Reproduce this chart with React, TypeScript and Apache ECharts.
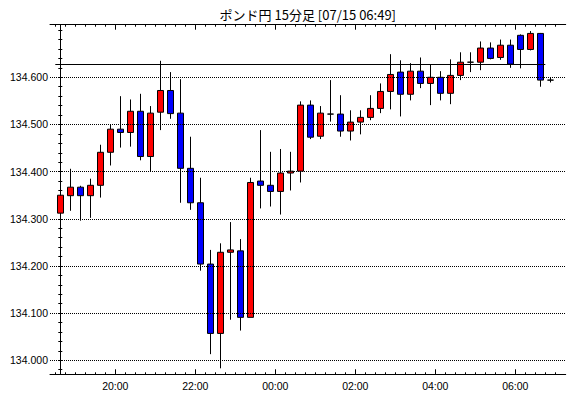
import React, { useEffect, useRef } from "react";
import * as echarts from "echarts";

const chartTitle = "ポンド円 15分足 [07/15 06:49]";

const times = [
  "18:30", "18:45", "19:00", "19:15", "19:30", "19:45", "20:00", "20:15", "20:30", "20:45",
  "21:00", "21:15", "21:30", "21:45", "22:00", "22:15", "22:30", "22:45", "23:00", "23:15",
  "23:30", "23:45", "00:00", "00:15", "00:30", "00:45", "01:00", "01:15", "01:30", "01:45",
  "02:00", "02:15", "02:30", "02:45", "03:00", "03:15", "03:30", "03:45", "04:00", "04:15",
  "04:30", "04:45", "05:00", "05:15", "05:30", "05:45", "06:00", "06:15", "06:30", "06:45",
];

const opens = [
  134.312, 134.349, 134.367, 134.349, 134.371, 134.441, 134.490, 134.483, 134.528, 134.432,
  134.526, 134.572, 134.524, 134.407, 134.334, 134.204, 134.057, 134.229, 134.232, 134.091,
  134.380, 134.371, 134.358, 134.397, 134.401, 134.541, 134.475, 134.522, 134.522, 134.486,
  134.505, 134.515, 134.534, 134.570, 134.611, 134.564, 134.613, 134.587, 134.600, 134.566,
  134.604, 134.632, 134.632, 134.662, 134.642, 134.668, 134.689, 134.659, 134.693, 134.594,
];
const closes = [
  134.350, 134.367, 134.349, 134.371, 134.441, 134.490, 134.483, 134.528, 134.432, 134.524,
  134.572, 134.523, 134.407, 134.334, 134.204, 134.057, 134.229, 134.234, 134.091, 134.377,
  134.371, 134.358, 134.397, 134.401, 134.541, 134.473, 134.524, 134.522, 134.486, 134.505,
  134.515, 134.534, 134.570, 134.606, 134.564, 134.613, 134.587, 134.600, 134.566, 134.604,
  134.632, 134.632, 134.662, 134.640, 134.668, 134.628, 134.659, 134.693, 134.594, 134.594,
];
const lows = [
  134.239, 134.317, 134.296, 134.302, 134.345, 134.413, 134.451, 134.453, 134.424, 134.401,
  134.488, 134.512, 134.334, 134.319, 134.190, 134.013, 133.983, 134.086, 134.063, 134.091,
  134.322, 134.326, 134.309, 134.360, 134.377, 134.469, 134.469, 134.506, 134.474, 134.466,
  134.479, 134.509, 134.524, 134.532, 134.517, 134.551, 134.577, 134.541, 134.551, 134.543,
  134.594, 134.611, 134.615, 134.638, 134.637, 134.620, 134.619, 134.657, 134.580, 134.589,
];
const highs = [
  134.382, 134.406, 134.370, 134.385, 134.457, 134.500, 134.560, 134.553, 134.565, 134.539,
  134.635, 134.611, 134.596, 134.474, 134.387, 134.234, 134.248, 134.293, 134.257, 134.387,
  134.488, 134.442, 134.448, 134.442, 134.549, 134.551, 134.539, 134.594, 134.562, 134.530,
  134.530, 134.562, 134.587, 134.649, 134.636, 134.630, 134.642, 134.628, 134.613, 134.638,
  134.653, 134.653, 134.676, 134.674, 134.680, 134.680, 134.691, 134.698, 134.694, 134.600,
];

const referenceLevel = 134.628;

const xTickLabels = ["20:00", "22:00", "00:00", "02:00", "04:00", "06:00"];
const yTickLabels = ["134.000", "134.100", "134.200", "134.300", "134.400", "134.500", "134.600"];
const yMinorStep = 0.02;

const X_MIN = -1.03;
const X_MAX = 50.54;
const Y_MIN = 133.9703;
const Y_MAX = 134.7115;

const LABEL_FONT = '"Liberation Sans", Arial, sans-serif';

export default function App() {
  const ref = useRef<HTMLDivElement>(null);

  useEffect(() => {
    if (!ref.current) return;
    const chart = echarts.init(ref.current, null, { renderer: "svg" });

    const candleData = times.map((_, i) => [i, opens[i], closes[i], lows[i], highs[i]]);
    const majorX = xTickLabels.map((l) => times.indexOf(l) - 0.5);
    const minorX = [...times.map((_, i) => i - 0.5), times.length - 0.5];
    const yLabelVals = yTickLabels.map(Number);
    const yMinor: number[] = [];
    for (let v = 133.98; v <= Y_MAX; v += yMinorStep) yMinor.push(+v.toFixed(2));

    const xLabelFor = (v: number) => {
      const idx = majorX.findIndex((m) => Math.abs(m - v) < 1e-6);
      return idx >= 0 ? xTickLabels[idx] : "";
    };
    const yLabelFor = (v: number) => {
      const idx = yLabelVals.findIndex((m) => Math.abs(m - v) < 1e-6);
      return idx >= 0 ? yTickLabels[idx] : "";
    };

    const black = { color: "#000", width: 1 };
    const baseX = {
      type: "value",
      gridIndex: 0,
      min: X_MIN,
      max: X_MAX,
      splitLine: { show: false },
    };
    const baseY = {
      type: "value",
      gridIndex: 0,
      min: Y_MIN,
      max: Y_MAX,
      scale: true,
      splitLine: { show: false },
    };

    chart.setOption({
      animation: false,
      backgroundColor: "#fff",
      grid: {
        left: 50,
        right: 4.3,
        top: 24.7,
        bottom: 23.7,
        containLabel: false,
        outerBoundsMode: "none",
      },
      xAxis: [
        {
          ...baseX,
          position: "bottom",
          axisLine: { show: true, lineStyle: black },
          axisTick: { show: true, inside: true, length: 5, customValues: majorX, lineStyle: black },
          axisLabel: {
            show: true,
            customValues: majorX,
            formatter: xLabelFor,
            color: "#000",
            fontSize: 10.5,
            fontFamily: LABEL_FONT,
            margin: 6,
          },
        },
        {
          ...baseX,
          position: "bottom",
          axisLine: { show: false },
          axisTick: { show: true, inside: true, length: 2, customValues: minorX, lineStyle: black },
          axisLabel: { show: false },
        },
        {
          ...baseX,
          position: "top",
          axisLine: { show: true, lineStyle: black },
          axisTick: { show: true, inside: true, length: 5, customValues: majorX, lineStyle: black },
          axisLabel: { show: false },
        },
        {
          ...baseX,
          position: "top",
          axisLine: { show: false },
          axisTick: { show: true, inside: true, length: 2, customValues: minorX, lineStyle: black },
          axisLabel: { show: false },
        },
      ],
      yAxis: [
        {
          ...baseY,
          position: "left",
          axisLine: { show: true, lineStyle: black },
          axisTick: { show: true, inside: true, length: 2, customValues: yMinor, lineStyle: black },
          axisLabel: {
            show: true,
            customValues: yLabelVals,
            formatter: yLabelFor,
            color: "#000",
            fontSize: 10.5,
            fontFamily: LABEL_FONT,
            margin: 2,
          },
        },
        {
          ...baseY,
          position: "right",
          axisLine: { show: true, lineStyle: black },
          axisTick: { show: true, inside: true, length: 2, customValues: yMinor, lineStyle: black },
          axisLabel: { show: false },
        },
      ],
      graphic: [
        {
          type: "text",
          x: 307.8,
          y: 14,
          style: {
            text: chartTitle,
            fill: "#000",
            fontSize: 13,
            fontFamily: '"Noto Sans CJK JP", sans-serif',
            align: "center",
            verticalAlign: "middle",
          },
        },
      ],
      series: [
        {
          type: "line",
          xAxisIndex: 0,
          yAxisIndex: 0,
          data: [],
          z: 1,
          silent: true,
          markLine: {
            silent: true,
            symbol: ["none", "none"],
            label: { show: false },
            lineStyle: { color: "#000", type: [1, 1], width: 1 },
            emphasis: { disabled: true },
            data: yLabelVals.map((v) => ({ yAxis: v })),
          },
        },
        {
          type: "candlestick",
          xAxisIndex: 0,
          yAxisIndex: 0,
          z: 3,
          data: candleData,
          encode: { x: 0, y: [1, 2, 3, 4] },
          barWidth: 6,
          itemStyle: {
            color: "#ff0000",
            color0: "#0000ff",
            borderColor: "#000",
            borderColor0: "#000",
            borderColorDoji: "#000",
            borderWidth: 1,
          },
          emphasis: { disabled: true },
          markLine: {
            silent: true,
            symbol: ["none", "none"],
            label: { show: false },
            lineStyle: { color: "#000", type: "solid", width: 1 },
            emphasis: { disabled: true },
            data: [
              [
                { coord: [-0.5, referenceLevel] },
                { coord: [times.length - 1.5, referenceLevel] },
              ],
            ],
          },
        },
      ],
    });

    return () => chart.dispose();
  }, []);

  return (
    <div
      ref={ref}
      style={{ position: "absolute", left: 0, top: 0, width: 570, height: 398, background: "#fff" }}
    />
  );
}
